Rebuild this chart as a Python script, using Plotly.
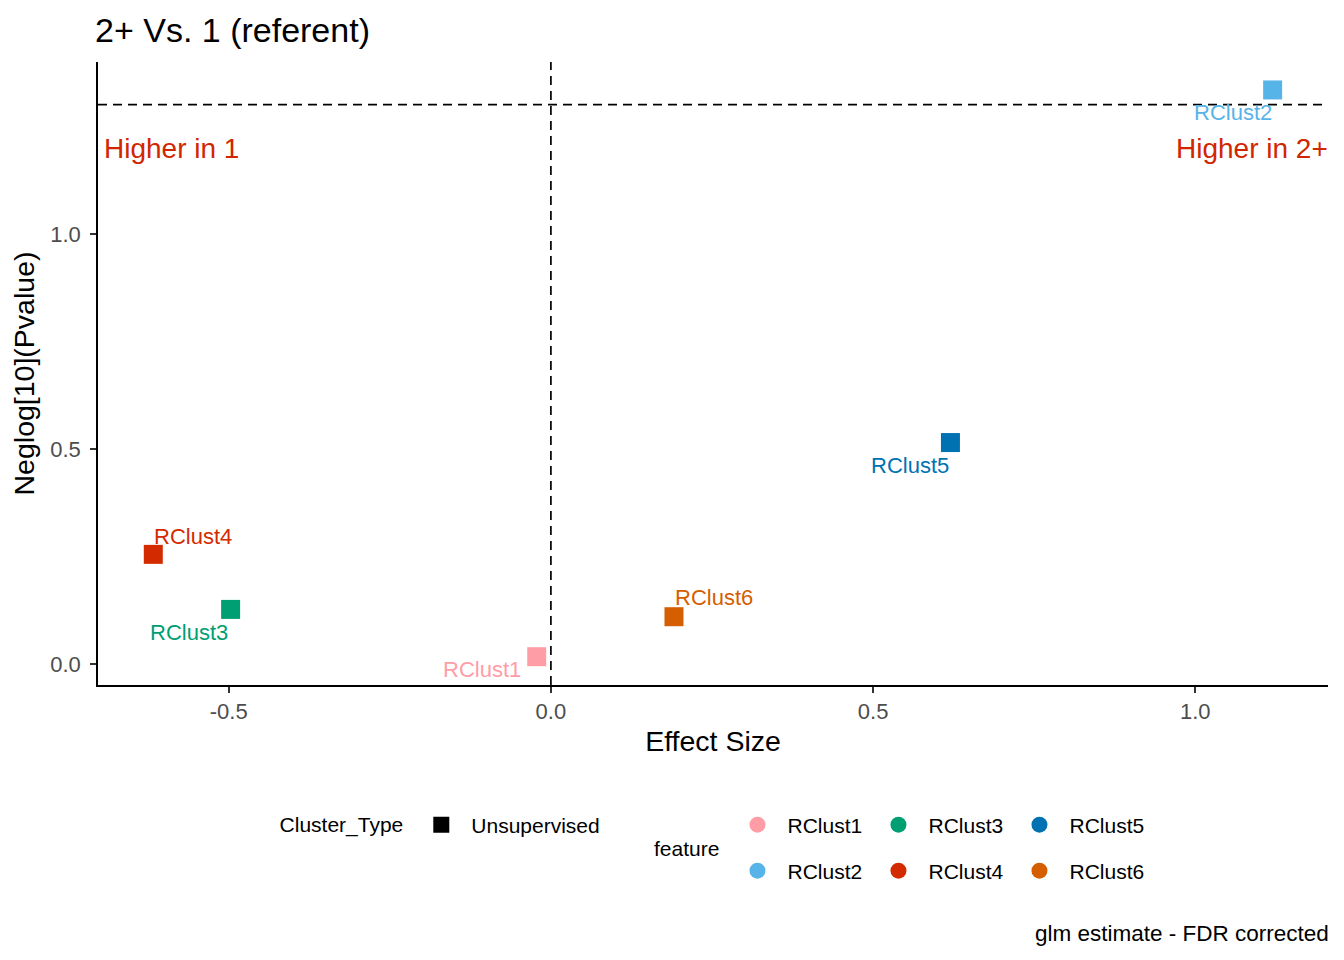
import plotly.graph_objects as go

# data
features = ['RClust1', 'RClust2', 'RClust3', 'RClust4', 'RClust5', 'RClust6']
effect_size = [-0.022, 1.120, -0.497, -0.617, 0.620, 0.191]
neglog_p = [0.017, 1.335, 0.127, 0.255, 0.515, 0.110]
cluster_type = ['Unsupervised'] * 6
x_ticks = [-0.5, 0.0, 0.5, 1.0]
x_tick_labels = ['-0.5', '0.0', '0.5', '1.0']
y_ticks = [0.0, 0.5, 1.0]
y_tick_labels = ['0.0', '0.5', '1.0']
sig_line = 1.30103  # -log10(0.05)

colors = {'RClust1': '#FF9DA7', 'RClust2': '#56B4E9', 'RClust3': '#009E73',
          'RClust4': '#D42A00', 'RClust5': '#0072B2', 'RClust6': '#D55E00'}
# ggrepel-like label offsets in px (dx, dy down)
label_shift = {'RClust1': (-55, 13), 'RClust2': (-40, 23), 'RClust3': (-42, 23),
               'RClust4': (40, -18), 'RClust5': (-40, 23), 'RClust6': (40, -19)}

FONT = 'Liberation Sans, Arial, sans-serif'
# the page body adds an 8px margin, so plot-area pixels are given in window coords
# and converted to paper coords relative to the plot area (95..1328, 62..685)
def px(x):
    return (x - 95) / 1233

def py(y):
    return (685 - y) / 623

fig = go.Figure()

for i, f in enumerate(features):
    fig.add_trace(go.Scatter(x=[effect_size[i]], y=[neglog_p[i]], mode='markers',
                             marker=dict(symbol='square', size=19, color=colors[f]),
                             showlegend=False, hoverinfo='text', text=f))
    dx, dy = label_shift[f]
    fig.add_annotation(x=effect_size[i], y=neglog_p[i], text=f, showarrow=False,
                       xshift=dx, yshift=-dy, font=dict(size=22, color=colors[f], family=FONT))

# legend entries
fig.add_trace(go.Scatter(x=[None], y=[None], mode='markers', name=cluster_type[0],
                         marker=dict(symbol='square', size=17, color='black'),
                         legend='legend'))
row1 = ['RClust1', 'RClust3', 'RClust5']
row2 = ['RClust2', 'RClust4', 'RClust6']
for f in row1:
    fig.add_trace(go.Scatter(x=[None], y=[None], mode='markers', name=f,
                             marker=dict(symbol='circle', size=18, color=colors[f]),
                             legend='legend2'))
for f in row2:
    fig.add_trace(go.Scatter(x=[None], y=[None], mode='markers', name=f,
                             marker=dict(symbol='circle', size=18, color=colors[f]),
                             legend='legend3'))

fig.add_hline(y=sig_line, line=dict(color='black', width=1.7, dash='9px,6px'))
fig.add_vline(x=0, line=dict(color='black', width=1.7, dash='9px,6px'))

fig.add_annotation(x=0, xref='paper', y=1.198, xanchor='left', xshift=4, showarrow=False,
                   text='Higher in 1', font=dict(size=28, color='#D12600', family=FONT))
fig.add_annotation(x=1, xref='paper', y=1.198, xanchor='right', xshift=2, showarrow=False,
                   text='Higher in 2+', font=dict(size=28, color='#D12600', family=FONT))
fig.add_annotation(x=px(720), xref='paper', y=py(848), yref='paper',
                   xanchor='right', yanchor='middle', showarrow=False, text='feature',
                   font=dict(size=21, color='black', family=FONT))
fig.add_annotation(x=1, xref='paper', y=py(933), yref='paper',
                   xanchor='right', yanchor='middle', xshift=3, showarrow=False,
                   text='glm estimate - FDR corrected',
                   font=dict(size=22.5, color='black', family=FONT))

legend_common = dict(orientation='h', xanchor='left', yanchor='middle',
                     font=dict(size=21, color='black', family=FONT), itemwidth=50,
                     bgcolor='rgba(0,0,0,0)', itemclick=False)
fig.update_layout(
    width=1344, height=960,
    margin=dict(l=87, r=24, t=54, b=283),
    paper_bgcolor='white', plot_bgcolor='white',
    font=dict(family=FONT),
    title=dict(text='2+ Vs. 1 (referent)', x=87 / 1344, xanchor='left',
               y=1 - 22 / 960, yanchor='middle',
               font=dict(size=34, color='black', family=FONT)),
    legend=dict(x=px(275), y=py(825),
                title=dict(text='Cluster_Type', side='left',
                           font=dict(size=21, color='black', family=FONT)),
                **legend_common),
    legend2=dict(x=px(726), y=py(825),
                 entrywidth=76, entrywidthmode='pixels', **legend_common),
    legend3=dict(x=px(726), y=py(871),
                 entrywidth=76, entrywidthmode='pixels', **legend_common),
)

fig.update_xaxes(range=[-0.7028, 1.2059], tickvals=x_ticks, ticktext=x_tick_labels,
                 showgrid=False, zeroline=False, showline=True, linecolor='black', linewidth=1.5,
                 ticks='outside', ticklen=6, tickwidth=1.5, tickcolor='#333333',
                 tickfont=dict(size=22, color='#4D4D4D', family=FONT),
                 title=dict(text='Effect Size', standoff=8,
                            font=dict(size=28.5, color='black', family=FONT)))
fig.update_yaxes(range=[-0.0488, 1.40], tickvals=y_ticks, ticktext=y_tick_labels,
                 showgrid=False, zeroline=False, showline=True, linecolor='black', linewidth=1.5,
                 ticks='outside', ticklen=6, tickwidth=1.5, tickcolor='#333333',
                 tickfont=dict(size=22, color='#4D4D4D', family=FONT),
                 ticklabelstandoff=5,
                 title=dict(text='Neglog[10](Pvalue)', standoff=10,
                            font=dict(size=28.5, color='black', family=FONT)))

fig.write_html("out.html")
